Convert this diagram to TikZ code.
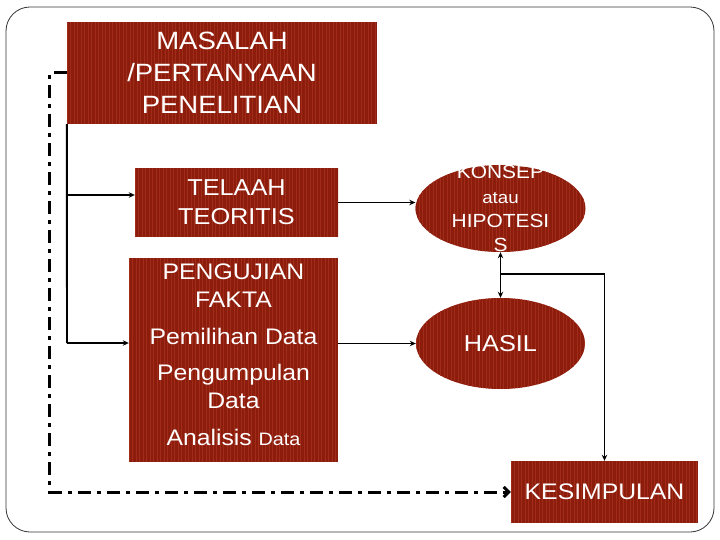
\documentclass[tikz,border=0pt]{standalone}
\usepackage{fontspec}
\setmainfont{Liberation Sans}[FakeStretch=1.1]
\usetikzlibrary{arrows.meta,shapes.geometric}
\definecolor{boxred}{RGB}{140,28,12}
\definecolor{stripered}{RGB}{162,44,26}
\tikzset{
  striped/.style={fill=boxred, path picture={
      \foreach \i in {0,3.5,...,400}
        \draw[stripered,line width=0.6pt]
          ([xshift=\i pt]path picture bounding box.south west) --
          ([xshift=\i pt]path picture bounding box.north west);}},
  redbox/.style={striped, rectangle, text=white, align=center, inner sep=0pt},
  redell/.style={striped, ellipse, text=white, align=center, inner sep=0pt},
  txt/.style={text=white, align=center, inner sep=0pt},
  conn/.style={line width=1.9pt, black},
  tip/.style={-{Stealth[length=6pt,width=5.5pt]}},
  dashdot/.style={line width=3pt, black, dash pattern=on 13pt off 6pt on 4pt off 6pt},
}
\begin{document}
\begin{tikzpicture}[x=1pt,y=-1pt]
\useasboundingbox (0,0) rectangle (720,540);
\draw[rounded corners=24pt, line width=0.8pt, black!80] (6,7) rectangle (714,532);

% nodes
\node[redbox, minimum width=310pt, minimum height=102pt,
      font=\fontsize{25}{32}\selectfont] (masalah) at (222,73)
      {MASALAH\\/PERTANYAAN\\PENELITIAN};
\node[redbox, minimum width=203pt, minimum height=69pt,
      font=\fontsize{23}{29}\selectfont] (telaah) at (236.5,202.5)
      {TELAAH\\TEORITIS};
\node[redbox, minimum width=209pt, minimum height=204pt] (pengujian) at (233.5,360) {};
\node[txt, font=\fontsize{22.5}{28}\selectfont] (pengtext) at (233.5,355)
      {PENGUJIAN\\FAKTA\\[9pt]Pemilihan Data\\[8pt]Pengumpulan\\Data\\[9pt]Analisis {\fontsize{18}{20}\selectfont Data}};
\node[redell, minimum width=170pt, minimum height=87pt] (konsep) at (500.5,208.5) {};
\node[txt, font=\fontsize{19}{24}\selectfont] (konseptext) at (500.5,208)
      {KONSEP\\[1pt]{\fontsize{17}{20}\selectfont atau}\\HIPOTESI\\S};
\node[redell, minimum width=169pt, minimum height=91pt,
      font=\fontsize{23}{28}\selectfont] (hasil) at (500.5,343.5) {HASIL};
\node[redbox, minimum width=187pt, minimum height=62pt,
      font=\fontsize{22.5}{28}\selectfont] (kesimpulan) at (604.5,492) {KESIMPULAN};

% connectors
\coordinate (j1) at (67,195);
\coordinate (j2) at (67,343);
\coordinate (j3) at (500.5,274);
\draw[conn] (masalah.south west) -- (j2);
\draw[conn,tip] (j1) -- (j1 -| telaah.west);
\draw[conn,tip] (j2) -- (j2 -| pengujian.west);
\draw[conn,tip] (telaah.east) -- (telaah.east -| konsep.west);
\draw[conn,tip] (pengujian.east |- hasil.west) -- (hasil.west);
\draw[conn,{Stealth[length=6pt,width=5.5pt]}-{Stealth[length=6pt,width=5.5pt]}] (konsep.south) -- (hasil.north);
\draw[conn,tip] (j3) -- (j3 -| kesimpulan.north) -- (kesimpulan.north);
\draw[dashdot,-{Straight Barb[length=5pt,width=10pt]}] (masalah.west) -- ++(-17,0) |- (kesimpulan.west);
\end{tikzpicture}
\end{document}
